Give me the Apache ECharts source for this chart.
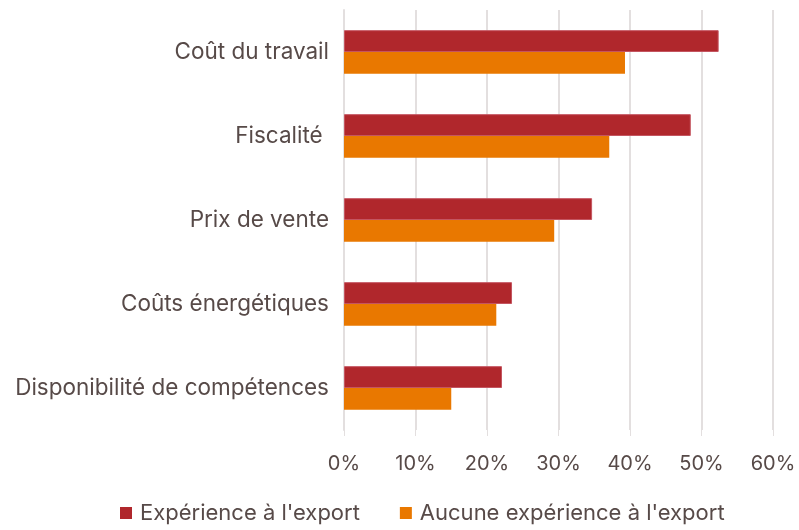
<!DOCTYPE html>
<html>
<head>
<meta charset="utf-8">
<script src="https://cdn.jsdelivr.net/npm/echarts@6/dist/echarts.min.js"></script>
<style>
html, body { margin: 0; padding: 0; background: #fff; }
#chart { width: 799px; height: 530px; }
</style>
</head>
<body>
<div id="chart"></div>
<script>
// categories, top to bottom
var categories = ['Coût du travail', 'Fiscalité ', 'Prix de vente', 'Coûts énergétiques', 'Disponibilité de compétences'];
var withExport = [52.4, 48.5, 34.7, 23.5, 22.1];
var noExport = [39.3, 37.1, 29.4, 21.3, 15.0];
var seriesNames = ["Expérience à l'export", "Aucune expérience à l'export"];

var textColor = '#574a48';
var chart = echarts.init(document.getElementById('chart'));
var option = {
  animation: false,
  textStyle: { fontFamily: 'Inter' },
  grid: { left: 344, right: 26, top: 10, bottom: 100 },
  legend: {
    bottom: 1,
    left: 115,
    itemWidth: 12,
    itemHeight: 12,
    itemGap: 40,
    icon: 'rect',
    itemStyle: { borderWidth: 0 },
    textStyle: { fontSize: 22, color: textColor, padding: [0, 0, 0, 3] },
    data: seriesNames
  },
  xAxis: {
    type: 'value',
    min: 0,
    max: 60,
    interval: 10,
    axisLabel: { formatter: '{value}%', fontSize: 20, color: textColor, margin: 24 },
    splitLine: { lineStyle: { color: '#e3dfdf', width: 2 } },
    axisLine: { show: false },
    axisTick: { show: true, length: 6, lineStyle: { color: '#e3dfdf' } }
  },
  yAxis: {
    type: 'category',
    inverse: true,
    data: categories,
    axisLabel: { fontSize: 22.5, color: textColor, margin: 15 },
    axisLine: { lineStyle: { color: '#e3dfdf', width: 2 } },
    axisTick: { show: false }
  },
  series: [
    {
      name: seriesNames[0],
      type: 'bar',
      data: withExport,
      barGap: '0%',
      barCategoryGap: '48%',
      itemStyle: { color: '#b0272c', borderColor: '#c45560', borderWidth: 1 }
    },
    {
      name: seriesNames[1],
      type: 'bar',
      data: noExport,
      itemStyle: { color: '#e97800' }
    }
  ]
};
chart.setOption(option);
</script>
</body>
</html>
